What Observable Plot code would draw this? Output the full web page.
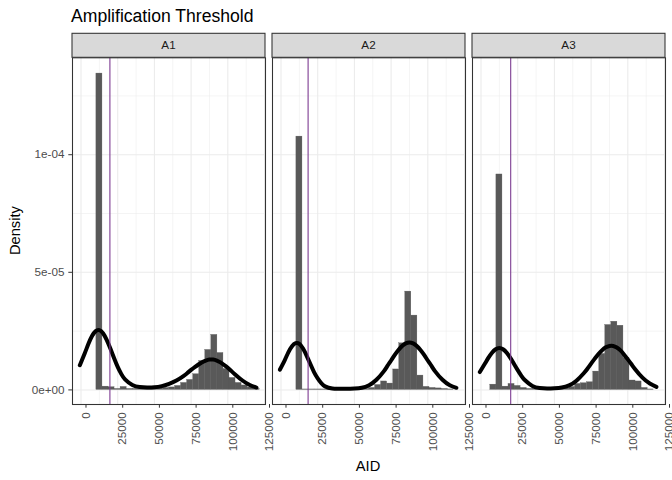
<!DOCTYPE html>
<html><head><meta charset="utf-8">
<script src="https://cdn.jsdelivr.net/npm/d3@7"></script>
<script src="https://cdn.jsdelivr.net/npm/@observablehq/plot@0.6"></script>
<style>
body{margin:0;background:#fff;}
#wrap{width:672px;height:480px;}
</style></head><body><div id="wrap"></div>
<script>
// ---- data ----
const panels = ["A1", "A2", "A3"];
const thresholds = [19690, 18460, 20230];
const binStart = -1875, binWidth = 4121;
// histogram densities (x 1e-6), 30 bins per panel
const histA1 = [0,0,0,134.5,1.4,1.15,0.42,1.27,0.42,0.42,0.42,0.42,0.51,0.64,0.85,1.06,1.7,2.97,4.25,6.67,12.3,17.0,23.4,15.7,8.9,5.1,2.97,1.9,1.06,0.42];
const histA2 = [0,0,0,107.7,0.2,0.2,0.2,0.2,0.2,0.2,0.2,0.2,0.2,0.3,0.4,0.85,2.1,3.6,2.7,8.7,19.8,41.8,31.6,6.1,1.3,0.85,0.64,0.42,0.21,0];
const histA3 = [0,0,2.25,91.6,1.4,2.55,1.7,0.85,0.42,0.42,0.42,0.42,0.42,0.42,0.85,1.27,2.55,2.85,3.27,7.8,15.3,27.6,29.0,27.3,13.6,4.0,3.6,0.85,0.2,0];
// fitted density curves (x 1e-5)
const densX = [-800,2500,5000,7500,10000,12500,15000,17500,20000,22500,25000,27500,30000,35000,40000,45000,50000,55000,60000,65000,70000,72500,75000,77500,80000,82500,85000,87500,90000,92500,95000,97500,100000,102500,105000,110000,115000,119500];
const densA1 = [1.05,1.55,1.95,2.29,2.50,2.54,2.41,2.13,1.76,1.36,0.98,0.67,0.45,0.21,0.12,0.10,0.11,0.16,0.26,0.40,0.60,0.72,0.85,0.97,1.08,1.18,1.25,1.29,1.29,1.25,1.17,1.06,0.94,0.80,0.66,0.40,0.21,0.10];
const densA2 = [0.86,1.26,1.60,1.86,1.99,1.96,1.76,1.45,1.10,0.76,0.49,0.28,0.15,0.06,0.05,0.05,0.06,0.09,0.20,0.43,0.79,1.02,1.25,1.49,1.70,1.87,1.98,2.02,1.98,1.87,1.70,1.49,1.25,1.02,0.79,0.43,0.20,0.09];
const densA3 = [0.76,1.10,1.36,1.58,1.73,1.78,1.73,1.58,1.36,1.10,0.84,0.60,0.41,0.17,0.08,0.06,0.07,0.10,0.19,0.39,0.71,0.90,1.12,1.33,1.53,1.69,1.81,1.87,1.87,1.80,1.68,1.50,1.30,1.09,0.88,0.52,0.27,0.13];
const xTicks = [0, 25000, 50000, 75000, 100000, 125000];
const xMinor = [12500, 37500, 62500, 87500, 112500];
const yTicks = [0, 5e-5, 1e-4];
const yTickLabels = ["0e+00", "5e-05", "1e-04"];
const yMinor = [2.5e-5, 7.5e-5, 1.25e-4];
const titleText = "Amplification Threshold";
const xLabel = "AID", yLabel = "Density";

// ---- tables ----
const histAll = [histA1, histA2, histA3];
const densAll = [densA1, densA2, densA3];
const hist = [];
panels.forEach((p, j) => histAll[j].forEach((v, i) => {
  if (v > 0) hist.push({panel: p, x1: binStart + i * binWidth, x2: binStart + (i + 1) * binWidth, d: v * 1e-6});
}));
const dens = [];
panels.forEach((p, j) => densX.forEach((x, i) => dens.push({panel: p, x, d: densAll[j][i] * 1e-5})));
const thr = panels.map((p, j) => ({panel: p, x: thresholds[j]}));

const FONT = "'Liberation Sans', Arial, sans-serif";
const chart = Plot.plot({
  width: 672, height: 480,
  marginLeft: 71.3, marginRight: 7.3, marginTop: 57.3, marginBottom: 76,
  style: {fontFamily: FONT, fontSize: "11.7px", background: "#fff"},
  fx: {domain: panels, paddingInner: 0.036, paddingOuter: 0, axis: null, label: null},
  x: {domain: [-5790, 125680]},
  y: {domain: [-6.2e-6, 1.412e-4]},
  marks: [
    Plot.ruleX(xMinor, {stroke: "#ebebeb", strokeWidth: 0.55}),
    Plot.ruleY(yMinor, {stroke: "#ebebeb", strokeWidth: 0.55}),
    Plot.ruleX(xTicks, {stroke: "#ebebeb", strokeWidth: 1.07}),
    Plot.ruleY(yTicks, {stroke: "#ebebeb", strokeWidth: 1.07}),
    Plot.rect(hist, {x1: "x1", x2: "x2", y1: 0, y2: "d", fx: "panel", fill: "#595959", inset: 0,
      stroke: "#595959", strokeWidth: 0.3}),
    Plot.line(dens, {x: "x", y: "d", fx: "panel", stroke: "#000", strokeWidth: 4, curve: "natural"}),
    Plot.ruleX(thr, {x: "x", fx: "panel", stroke: "#7d3c92", strokeWidth: 1.1}),
    Plot.frame({stroke: "#333333", strokeWidth: 1.07}),
    Plot.axisY({ticks: yTicks, tickFormat: d => yTickLabels[yTicks.indexOf(d)], tickSize: 3.7, tickPadding: 4.3,
      stroke: "#333333", fill: "#4d4d4d", label: null}),
    Plot.axisX({ticks: xTicks, tickFormat: d => String(d), tickRotate: -90, tickSize: 3.7, tickPadding: 4,
      dx: 5, stroke: "#333333", fill: "#4d4d4d", label: null})
  ]
});
document.getElementById("wrap").appendChild(chart);

// ---- strips, titles ----
const svg = d3.select(chart);
const fxs = chart.scale("fx");
const g = svg.append("g");
panels.forEach(p => {
  const x0 = fxs.apply(p);
  g.append("rect").attr("x", x0).attr("y", 33.3).attr("width", fxs.bandwidth).attr("height", 24)
    .attr("fill", "#d9d9d9").attr("stroke", "#333333").attr("stroke-width", 1.07);
  g.append("text").attr("x", x0 + fxs.bandwidth / 2).attr("y", 49.4).attr("text-anchor", "middle")
    .attr("font-family", FONT).attr("font-size", 11.7).attr("fill", "#1a1a1a").text(p);
});
svg.append("text").attr("x", 71).attr("y", 21.7).attr("text-anchor", "start").attr("font-family", FONT)
  .attr("font-size", 17.6).attr("fill", "#000").text(titleText);
svg.append("text").attr("x", (71.3 + 664.7) / 2).attr("y", 471).attr("text-anchor", "middle")
  .attr("font-family", FONT).attr("font-size", 14.67).attr("fill", "#000").text(xLabel);
svg.append("text").attr("transform", "translate(20,230.6) rotate(-90)").attr("text-anchor", "middle")
  .attr("font-family", FONT).attr("font-size", 14.67).attr("fill", "#000").text(yLabel);
</script></body></html>
